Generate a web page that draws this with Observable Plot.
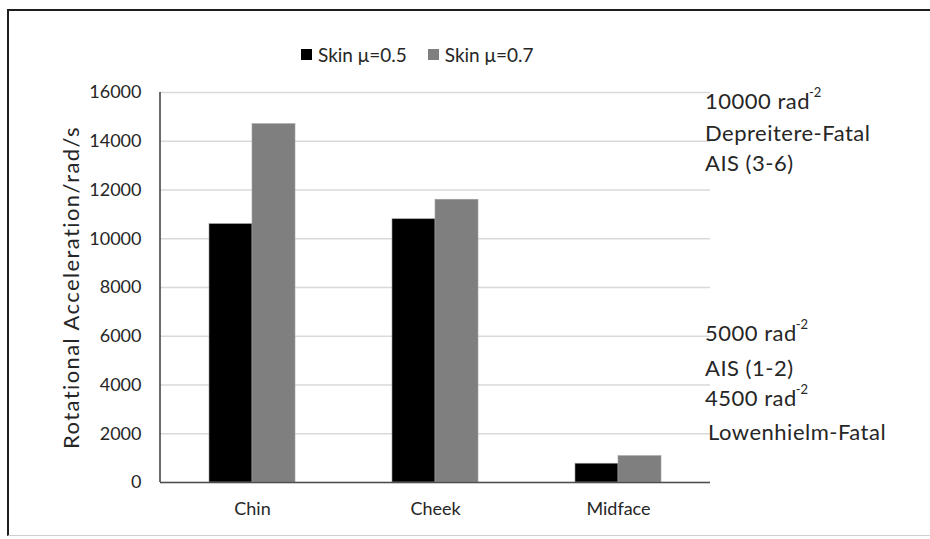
<!DOCTYPE html>
<html>
<head>
<meta charset="utf-8">
<script src="https://cdn.jsdelivr.net/npm/d3@7"></script>
<script src="https://cdn.jsdelivr.net/npm/@observablehq/plot@0.6"></script>
<style>
  html, body { margin: 0; padding: 0; background: #fff; }
  body { width: 930px; height: 539px; position: relative; overflow: hidden; font-family: Lato, "Open Sans", sans-serif; color: #262626; }
  #border { position: absolute; left: 7px; top: 9px; width: 930px; height: 527px; border-left: 2px solid #1e1e1e; border-top: 2px solid #1e1e1e; border-bottom: 1px solid #d0d0d0; box-sizing: border-box; }
  #chart { position: absolute; left: 0; top: 0; }
  #legend { position: absolute; top: 43px; left: 301px; font-size: 19px; display: flex; gap: 21px; align-items: center; white-space: nowrap; }
  #legend .item { display: flex; align-items: center; gap: 6px; }
  #legend .sw { width: 11px; height: 11px; display: inline-block; }
  .note { position: absolute; font-size: 22px; letter-spacing: 0.5px; white-space: nowrap; line-height: 1; transform: translateY(-50%); }
  .note sup { font-size: 13px; position: relative; top: -4px; vertical-align: top; letter-spacing: 0; margin-left: -1px; }
  svg text.ylab { letter-spacing: 1.4px; }
</style>
</head>
<body>
<div id="border"></div>
<div id="chart"></div>
<div id="legend"></div>

<script>
// ---- data ----
const categories = ["Chin", "Cheek", "Midface"];
const seriesNames = ["Skin \u03bc=0.5", "Skin \u03bc=0.7"];
const seriesColors = ["#000000", "#7f7f7f"];
const valuesMu05 = [10600, 10800, 770];
const valuesMu07 = [14700, 11600, 1080];
const yTicks = [0, 2000, 4000, 6000, 8000, 10000, 12000, 14000, 16000];
const yLabel = "Rotational Acceleration/rad/s";
const notesUpper = [["10000 rad", "-2"], ["Depreitere-Fatal", ""], ["AIS (3-6)", ""]];
const notesLower = [["5000 rad", "-2"], ["AIS (1-2)", ""], ["4500 rad", "-2"], ["Lowenhielm-Fatal", ""]];

const rows05 = categories.map((c, i) => ({category: c, value: valuesMu05[i]}));
const rows07 = categories.map((c, i) => ({category: c, value: valuesMu07[i]}));

const W = 930, H = 539;
const mL = 160, mR = 220, mT = 92, mB = 57;
const halfBar = 43;

const chart = Plot.plot({
  width: W,
  height: H,
  marginLeft: mL,
  marginRight: mR,
  marginTop: mT,
  marginBottom: mB,
  style: {fontFamily: "Lato, 'Open Sans', sans-serif", fontSize: "18px", color: "#262626", background: "transparent"},
  x: {domain: categories, paddingInner: 0.53, paddingOuter: 0.265, label: null},
  y: {domain: [0, 16000], label: null},
  marks: [
    Plot.gridY(yTicks, {stroke: "#d9d9d9", strokeOpacity: 1, strokeWidth: 1.5}),
    Plot.barY(rows05, {x: "category", y: "value", fill: seriesColors[0], insetRight: halfBar, stroke: "#9a9a9a", strokeWidth: 0.6}),
    Plot.barY(rows07, {x: "category", y: "value", fill: seriesColors[1], insetLeft: halfBar, stroke: "#a0a0a0", strokeWidth: 0.6}),
    Plot.ruleY([0], {stroke: "#4d4d4d", strokeWidth: 1.5}),
    Plot.axisY(yTicks, {tickSize: 0, tickPadding: 19, tickFormat: d => String(d), label: null, fontSize: 18}),
    Plot.axisX({tickSize: 0, tickPadding: 20, label: null, fontSize: 18}),
    Plot.axisY({ticks: [], label: yLabel, labelAnchor: "center", labelOffset: 97, labelArrow: "none", tickSize: 0, fontSize: 22, className: "ylabaxis"})
  ]
});
document.getElementById("chart").appendChild(chart);
d3.select(chart).selectAll("text").filter(function() { return this.textContent === yLabel; }).classed("ylab", true);

// vertical axis line at left edge of the frame, using the plot's y scale
const ys = chart.scale("y");
d3.select(chart).append("line")
  .attr("x1", mL).attr("x2", mL)
  .attr("y1", ys.range[0]).attr("y2", ys.range[1])
  .attr("stroke", "#3a3a3a").attr("stroke-width", 1.5);

// legend
const legend = d3.select("#legend");
seriesNames.forEach((n, i) => {
  const it = legend.append("div").attr("class", "item");
  it.append("span").attr("class", "sw").style("background", seriesColors[i]);
  it.append("span").text(n);
});

// right-side annotations
const upperTops = [101, 133, 163];
const lowerTops = [333, 368, 398, 432];
function addNotes(list, ys0, x) {
  list.forEach(([t, s], i) => {
    const d = document.createElement("div");
    d.className = "note";
    d.style.left = (x + (i === 3 && list.length === 4 ? 3 : 0)) + "px";
    d.style.top = ys0[i] + "px";
    d.textContent = t;
    if (s) { const sp = document.createElement("sup"); sp.textContent = s; d.appendChild(sp); }
    document.body.appendChild(d);
  });
}
addNotes(notesUpper, upperTops, 705);
addNotes(notesLower, lowerTops, 705);
</script>
</body>
</html>
